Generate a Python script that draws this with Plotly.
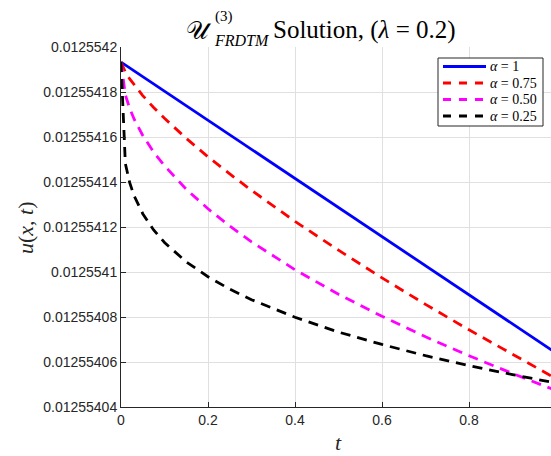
import plotly.graph_objects as go

# ---------------- data ----------------
t_a100 = [0.0, 0.5, 0.99]
u_a100 = [0.0125541933, 0.0125541287, 0.0125540653]

t_grid = [0.0, 0.01, 0.02, 0.03, 0.05, 0.075, 0.1, 0.15, 0.2, 0.25, 0.3,
          0.4, 0.5, 0.6, 0.7, 0.8, 0.9, 0.99]

u_a075 = [0.0125541933, 0.0125541889, 0.0125541858, 0.0125541832, 0.0125541784,
          0.0125541731, 0.0125541683, 0.0125541594, 0.0125541512, 0.0125541436,
          0.0125541363, 0.0125541225, 0.0125541097, 0.0125540974, 0.0125540856,
          0.0125540743, 0.0125540633, 0.0125540537]

u_a050 = [0.0125541933, 0.0125541787, 0.0125541727, 0.0125541680, 0.0125541607,
          0.0125541533, 0.0125541472, 0.0125541368, 0.0125541281, 0.0125541204,
          0.0125541134, 0.0125541010, 0.0125540901, 0.0125540803, 0.0125540712,
          0.0125540628, 0.0125540549, 0.0125540481]

u_a025 = [0.0125541933, 0.0125541482, 0.0125541397, 0.0125541339, 0.0125541259,
          0.0125541187, 0.0125541131, 0.0125541045, 0.0125540979, 0.0125540924,
          0.0125540877, 0.0125540799, 0.0125540733, 0.0125540678, 0.0125540628,
          0.0125540584, 0.0125540544, 0.0125540510]

series_names = ["<i>α</i> = 1", "<i>α</i> = 0.75", "<i>α</i> = 0.50", "<i>α</i> = 0.25"]

x_tickvals = [0, 0.2, 0.4, 0.6, 0.8]
x_ticktext = ["0", "0.2", "0.4", "0.6", "0.8"]
y_tickvals = [0.01255404, 0.01255406, 0.01255408, 0.0125541, 0.01255412,
              0.01255414, 0.01255416, 0.01255418, 0.0125542]
y_ticktext = ["0.01255404", "0.01255406", "0.01255408", "0.0125541", "0.01255412",
              "0.01255414", "0.01255416", "0.01255418", "0.0125542"]

# ---------------- figure ----------------
AX = "#262626"
GRID = "#e0e0e0"
SERIF = "Liberation Serif"
SANS = "Liberation Sans"
DASH = "10px,7px"

styles = [
    dict(color="#0000ff", width=2.8, dash="solid"),
    dict(color="#ff0000", width=2.8, dash=DASH),
    dict(color="#ff00ff", width=2.8, dash=DASH),
    dict(color="#000000", width=2.8, dash=DASH),
]

fig = go.Figure()
for tt, uu, nm, st in zip([t_a100, t_grid, t_grid, t_grid],
                          [u_a100, u_a075, u_a050, u_a025],
                          series_names, styles):
    fig.add_trace(go.Scatter(x=tt, y=uu, mode="lines", name=nm, line=st,
                             showlegend=False))

fig.update_layout(
    width=551, height=456,
    margin=dict(l=121, r=0, t=47, b=49),
    paper_bgcolor="white", plot_bgcolor="white",
    showlegend=False,
    xaxis=dict(range=[0, 0.9885], tickmode="array", tickvals=x_tickvals, ticktext=x_ticktext,
               showgrid=True, gridcolor=GRID, gridwidth=1, zeroline=False,
               showline=True, linecolor=AX, linewidth=1, mirror=False,
               ticks="inside", ticklen=5, tickcolor=AX, automargin=False,
               tickfont=dict(family=SANS, size=14, color=AX)),
    yaxis=dict(range=[0.01255404, 0.0125542], tickmode="array", tickvals=y_tickvals,
               ticktext=y_ticktext,
               showgrid=True, gridcolor=GRID, gridwidth=1, zeroline=False,
               showline=True, linecolor=AX, linewidth=1, mirror=False,
               ticks="inside", ticklen=5, tickcolor=AX, automargin=False,
               tickfont=dict(family=SANS, size=14, color=AX)),
)


def px_x(p):
    return (p - 121) / 430.0


def px_y(p):
    return (407 - p) / 360.0


ann = [
    # title pieces
    dict(text="𝒰", x=px_x(214), y=px_y(31), xanchor="right", yanchor="middle",
         font=dict(family=SERIF, size=25, color="black")),
    dict(text="(3)", x=px_x(213), y=px_y(16), xanchor="left", yanchor="middle",
         font=dict(family=SERIF, size=15, color="black")),
    dict(text="<i>FRDTM</i>", x=px_x(212), y=px_y(40), xanchor="left", yanchor="middle",
         font=dict(family=SERIF, size=16, color="black")),
    dict(text="Solution, (<i>λ</i> = 0.2)", x=px_x(271), y=px_y(30), xanchor="left",
         yanchor="middle", font=dict(family=SERIF, size=25, color="black")),
    # axis labels
    dict(text="<i>t</i>", x=px_x(338), y=px_y(442), xanchor="center", yanchor="middle",
         font=dict(family=SERIF, size=22, color=AX)),
    dict(text="<i>u</i>(<i>x</i>, <i>t</i>)", x=px_x(25), y=px_y(228), xanchor="center",
         yanchor="middle", textangle=-90, font=dict(family=SERIF, size=22, color=AX)),
]
for a in ann:
    fig.add_annotation(xref="paper", yref="paper", showarrow=False, **a)

# legend box drawn in layout space
fig.add_shape(type="rect", xref="paper", yref="paper",
              x0=px_x(438), x1=px_x(543), y0=px_y(126), y1=px_y(58),
              fillcolor="white", line=dict(color=AX, width=1), layer="above")
row_y = [66.5, 83, 99.5, 116]
for nm, st, ry in zip(series_names, styles, row_y):
    fig.add_shape(type="line", xref="paper", yref="paper",
                  x0=px_x(443), x1=px_x(486), y0=px_y(ry), y1=px_y(ry),
                  line=dict(color=st["color"], width=2.8,
                            dash="solid" if st["dash"] == "solid" else "8px,8px"),
                  layer="above")
    fig.add_annotation(xref="paper", yref="paper", showarrow=False, text=nm,
                       x=px_x(488), y=px_y(ry), xanchor="left", yanchor="middle",
                       font=dict(family=SERIF, size=14, color="black"))

fig.write_html("out.html",
               config={"displayModeBar": False},
               post_script="document.body.style.margin='0';document.body.style.overflow='hidden';")
